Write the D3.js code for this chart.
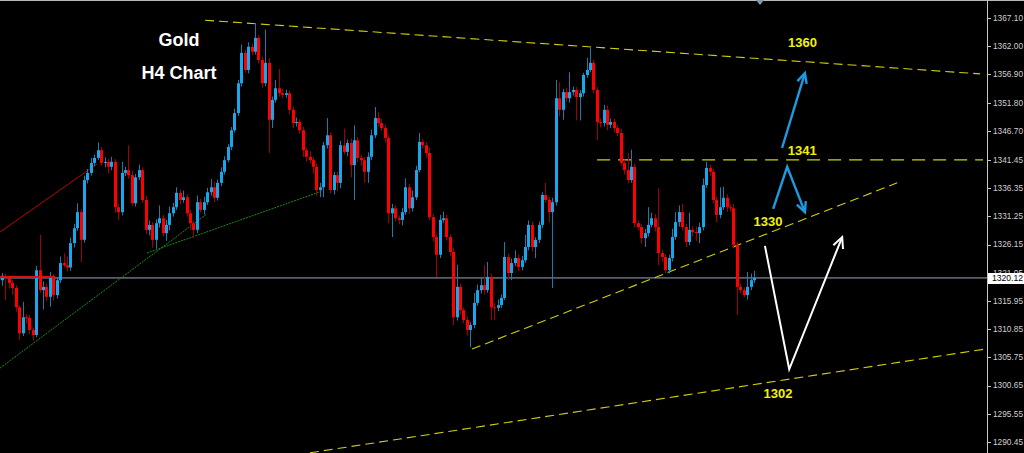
<!DOCTYPE html>
<html><head><meta charset="utf-8">
<script src="https://cdn.jsdelivr.net/npm/d3@7"></script>
<style>html,body{margin:0;padding:0;background:#000;overflow:hidden}</style>
</head><body>
<svg id="chart" width="1024" height="453"></svg>
<script>
// ---------------- DATA ----------------
const firstOpen = 1319.7;
const closes = [
 1320.5,1320.1,1319.2,1318.3,1314.8,1310.1,1313.0,1312.9,1310.7,1309.8,
 1321.5,1317.9,1318.5,1316.7,1320.3,1317.0,1319.7,1322.8,1322.4,1322.0,
 1326.4,1329.1,1332.0,1327.0,1337.8,1339.1,1340.9,1341.8,1343.2,1340.9,
 1341.1,1340.2,1341.1,1332.9,1332.0,1339.1,1339.6,
 1338.7,1333.6,1338.3,1339.6,1334.2,1328.8,1329.7,1327.0,1330.0,1330.9,
 1328.2,1329.7,1331.8,1332.9,1335.5,1334.2,1334.7,1331.8,1330.0,1328.8,
 1333.8,1332.4,1333.8,1335.6,1336.5,1334.6,1337.3,1339.3,1341.4,1343.8,
 1346.8,1349.9,1355.3,1360.8,1357.7,1361.9,
 1361.0,1363.5,1359.5,1355.3,1359.0,1348.7,1352.3,1354.4,1353.5,1353.2,
 1353.5,1350.5,1348.1,1348.3,1346.8,1343.2,1342.0,1341.4,1340.2,1336.0,
 1336.5,1344.1,1345.9,1336.0,1338.7,1337.3,1344.1,1342.9,1344.5,1340.5,
 1345.0,1341.8,1341.4,1339.3,1342.0,1345.9,1349.0,
 1348.1,1347.2,1345.4,1331.8,1332.7,1330.9,1330.6,1332.0,1336.5,1332.7,
 1334.7,1339.6,1344.7,1344.1,1342.7,1331.1,1327.5,1324.3,1330.6,1330.9,
 1327.5,1324.8,1313.0,1318.5,1314.3,1312.5,1310.7,1311.6,1315.6,1317.9,
 1318.8,1317.9,1320.3,1314.8,1314.7,1315.2,1316.5,1323.9,
 1321.0,1322.8,1323.7,1322.1,1323.3,1325.7,1329.7,1325.7,1327.0,1329.7,
 1335.1,1334.2,1332.0,1333.8,1352.6,1350.5,1353.7,1352.6,1353.7,1354.1,
 1352.8,1353.5,1356.8,1357.7,1359.0,1354.1,1348.3,1348.1,1350.5,1347.8,
 1348.3,1347.2,1346.3,1340.9,1339.6,
 1337.8,1340.2,1330.0,1329.3,1327.3,1328.2,1329.7,1330.9,1329.3,1324.6,
 1323.9,1321.5,1323.7,1327.5,1330.2,1332.0,1329.3,1326.6,1328.8,1328.4,
 1328.2,1329.3,1336.9,1340.0,1339.3,1334.2,1331.5,1332.9,1334.6,1332.9,
 1332.7,1326.1,1318.5,1317.9,1317.0,1318.5,1319.7,1320.1
];
const wickUp = [
 0.5,0.4,0.3,0.6,0.5,0.4,2.8,0.6,0.5,0.4,
 0.8,6.4,1.0,0.6,0.9,0.5,0.6,1.2,1.8,1.6,
 1.0,0.8,1.6,0.5,0.8,0.7,0.9,0.6,1.4,0.6,
 0.8,0.5,0.9,0.5,0.6,2.0,0.6,
 4.5,0.8,0.6,1.0,0.5,0.8,0.8,0.5,0.7,2.3,
 0.6,0.9,1.2,0.8,1.0,0.6,1.2,0.5,0.6,0.5,
 1.2,0.6,1.0,0.8,1.5,1.0,0.6,0.8,0.7,0.5,
 0.6,0.8,0.6,1.5,0.6,0.8,
 0.6,2.7,0.5,0.6,6.0,0.8,0.6,1.5,3.5,0.8,
 0.6,0.5,0.6,0.8,0.5,0.6,0.5,1.0,0.5,0.6,
 0.8,0.6,3.1,0.5,0.6,0.6,0.8,3.0,0.6,0.8,
 2.7,0.6,0.5,0.6,0.8,1.0,2.0,
 1.1,0.8,0.6,0.5,0.8,0.6,0.5,0.8,1.6,0.6,
 1.2,0.8,1.6,0.5,0.6,1.0,0.6,0.5,0.9,1.2,
 0.6,0.5,0.8,4.0,0.6,0.5,0.6,0.5,1.8,1.0,
 1.5,3.6,2.7,0.6,0.8,1.0,0.6,2.7,
 0.6,0.8,1.4,0.6,0.8,2.2,0.8,0.6,0.5,0.6,
 0.5,2.2,0.6,0.8,3.3,2.9,0.6,0.8,3.6,0.6,
 0.5,0.6,0.4,2.2,2.9,0.6,0.5,0.6,0.9,0.8,
 0.6,0.6,0.5,0.8,0.6,
 3.1,3.1,0.6,0.5,0.6,0.8,3.2,1.0,0.8,7.0,
 0.6,0.5,0.6,1.5,1.8,1.2,1.5,0.6,3.1,0.6,
 1.0,0.8,1.2,1.1,0.6,0.5,0.6,3.6,2.0,0.6,
 0.5,0.8,0.5,0.6,0.5,2.7,1.2,1.3
];
const wickDn = [
 1.0,4.0,1.0,1.2,0.8,1.2,0.5,1.0,0.8,1.0,
 0.4,0.5,3.5,0.8,1.8,1.0,0.6,0.5,0.4,0.7,
 0.6,0.8,0.5,4.0,0.5,0.6,0.5,0.6,0.4,0.5,
 0.8,1.2,0.6,1.0,1.4,0.6,0.6,
 0.6,0.5,0.6,0.5,0.5,0.8,1.0,1.4,1.6,0.8,
 0.6,1.4,1.0,0.6,0.5,0.8,0.5,0.6,1.2,1.5,
 0.6,0.5,0.8,0.5,0.6,0.8,0.5,0.6,0.5,0.4,
 0.6,0.4,0.5,0.6,0.5,0.6,
 0.6,0.5,0.6,0.8,0.5,6.0,1.5,0.5,0.6,0.6,
 0.5,0.8,0.9,0.6,0.6,1.2,0.8,0.6,1.2,1.0,
 1.3,1.8,0.6,0.6,0.8,1.5,1.0,0.5,0.8,2.2,
 6.3,0.8,1.0,2.0,2.0,0.6,0.5,
 0.6,0.5,0.8,1.8,4.3,0.6,0.8,1.0,0.5,1.0,
 0.6,0.5,0.4,0.6,0.8,0.6,0.8,4.0,0.6,0.5,
 0.6,0.8,1.4,0.6,0.8,0.6,1.0,3.1,0.6,0.5,
 0.6,0.8,0.5,2.3,2.2,0.6,0.5,0.4,
 1.3,1.3,0.5,0.8,0.6,0.5,0.6,0.8,2.0,0.6,
 0.6,0.5,1.8,13.7,0.6,1.2,1.8,0.6,0.8,0.6,
 4.2,4.2,0.6,0.5,0.4,0.6,3.3,0.8,0.6,1.0,
 0.6,0.8,0.6,0.5,0.8,
 0.6,0.5,0.8,0.6,1.0,1.6,0.6,0.5,0.8,2.2,
 0.8,0.5,0.6,0.6,0.5,0.8,0.6,0.9,0.6,0.8,
 1.4,1.8,0.6,0.5,0.8,0.6,1.3,0.6,0.5,0.8,
 0.6,0.5,5.1,0.6,0.4,0.8,0.6,0.5
];
const tickLabels = ["1367.10","1362.00","1356.90","1351.80","1346.70","1341.45","1336.35","1331.25",
  "1326.15","1321.05","1315.95","1310.85","1305.75","1300.65","1295.55","1290.45"];
const currentPrice = 1320.12;
const resistanceLevel = 1341.45;
const resistanceStart = 174.1;            // candle index where the dashed level starts
const upperTrend   = [[59.4,1366.7],[286.1,1357.0]];
const supportTrend = [[137.5,1307.25],[261.9,1337.3]];
const lowerTrend   = [[90.1,1288.5],[288.2,1307.3]];
const greenSteep   = [[-0.6,1303.8],[60.0,1331.7]];
const greenFlat    = [[42.4,1324.6],[93.6,1335.8]];
const redTrend     = [[-0.6,1328.4],[27.8,1340.7]];
const redLevel     = [[-0.6,1320.3],[15.5,1320.3]];
const blueArrowUp  = [[228.2,1343.6],[234.9,1357.15]];
const blueChevron  = [[225.6,1332.6],[229.7,1340.2],[234.9,1332.0]];
const whiteV       = [[223.2,1325.9],[230.3,1303.6],[245.8,1327.5]];
const targetLabels = [
  {text:"1360", i:234.2, p:1361.85},
  {text:"1341", i:234.1, p:1342.33},
  {text:"1330", i:224.1, p:1329.49},
  {text:"1302", i:227.0, p:1298.39}
];
const titleLines = ["Gold","H4 Chart"];

// ---------------- DRAWING ----------------
const W = 1024, H = 453, axisX = 987;
const svg = d3.select("#chart");
svg.append("rect").attr("width",W).attr("height",H).attr("fill","#000");

const x = d3.scaleLinear().domain([0, closes.length-1]).range([2, 754]);
const y = d3.scaleLinear().domain([1290.45, 1367.10]).range([442, 18]);

svg.append("defs").append("clipPath").attr("id","plot")
  .append("rect").attr("x",0).attr("y",0).attr("width",axisX).attr("height",H);
const plot = svg.append("g").attr("clip-path","url(#plot)");

const line = d3.line().x(d=>x(d[0])).y(d=>y(d[1]));

// current price line
plot.append("line").attr("x1",0).attr("x2",axisX)
  .attr("y1",y(currentPrice)).attr("y2",y(currentPrice))
  .attr("stroke","#5c5f6a").attr("stroke-width",1.6);

// yellow dashed trend lines
[upperTrend, supportTrend, lowerTrend].forEach(t=>{
  plot.append("path").attr("d",line(t)).attr("fill","none")
    .attr("stroke","#cfcf10").attr("stroke-width",1.1).attr("stroke-dasharray","9,5");
});
plot.append("line").attr("x1",x(resistanceStart)).attr("x2",axisX-4)
  .attr("y1",y(resistanceLevel)).attr("y2",y(resistanceLevel))
  .attr("stroke","#cfcf10").attr("stroke-width",1.3).attr("stroke-dasharray","13,8");

// green dotted lines
[greenSteep, greenFlat].forEach(t=>{
  plot.append("path").attr("d",line(t)).attr("fill","none")
    .attr("stroke","#1c8c1c").attr("stroke-width",1).attr("stroke-dasharray","2,1");
});
// red line
plot.append("path").attr("d",line(redTrend)).attr("fill","none")
  .attr("stroke","#c00000").attr("stroke-width",1);

// candles
const opens = [firstOpen].concat(closes.slice(0,-1));
const candles = closes.map((c,i)=>{
  const o = opens[i];
  return {i, o, c, h: Math.max(o,c)+wickUp[i], l: Math.min(o,c)-wickDn[i], bull: c>=o};
});
const cg = plot.append("g");
cg.selectAll("line.w").data(candles).join("line").attr("class","w")
  .attr("x1",d=>Math.round(x(d.i))+0.5).attr("x2",d=>Math.round(x(d.i))+0.5)
  .attr("y1",d=>y(d.h)).attr("y2",d=>y(d.l))
  .attr("stroke",d=>d.bull?"#1f7aa8":"#a00000").attr("stroke-width",1);
cg.selectAll("rect.b").data(candles).join("rect").attr("class","b")
  .attr("x",d=>Math.round(x(d.i))-1).attr("width",3)
  .attr("y",d=>y(Math.max(d.o,d.c)))
  .attr("height",d=>Math.max(1, Math.abs(y(d.o)-y(d.c))))
  .attr("fill",d=>d.bull?"#18a6ec":"#ff0000");

// red level on top
plot.append("path").attr("d",line(redLevel)).attr("fill","none")
  .attr("stroke","#e01010").attr("stroke-width",2);

// arrows
function arrow(pts, color, width, head){
  const px = pts.map(p=>[x(p[0]), y(p[1])]);
  plot.append("path").attr("d",d3.line()(px)).attr("fill","none")
    .attr("stroke",color).attr("stroke-width",width).attr("stroke-linejoin","miter");
  const a = px[px.length-1], b = px[px.length-2];
  const ang = Math.atan2(a[1]-b[1], a[0]-b[0]);
  const spread = 0.45;
  const p1 = [a[0]-head*Math.cos(ang-spread), a[1]-head*Math.sin(ang-spread)];
  const p2 = [a[0]-head*Math.cos(ang+spread), a[1]-head*Math.sin(ang+spread)];
  plot.append("path").attr("d",d3.line()([p1,a,p2])).attr("fill","none")
    .attr("stroke",color).attr("stroke-width",width).attr("stroke-linejoin","miter");
}
arrow(blueArrowUp, "#1c9be0", 2.4, 11);
arrow(blueChevron, "#1c9be0", 2.4, 11);
arrow(whiteV, "#ffffff", 2, 12);

// target labels
svg.selectAll("text.tl").data(targetLabels).join("text").attr("class","tl")
  .attr("x",d=>x(d.i)).attr("y",d=>y(d.p)).attr("text-anchor","middle")
  .attr("font-family","'Liberation Sans',Arial,sans-serif").attr("font-weight","bold")
  .attr("font-size",13).attr("fill","#f2f200").text(d=>d.text);

// title
svg.selectAll("text.tt").data(titleLines).join("text").attr("class","tt")
  .attr("x",179).attr("y",(d,k)=>46+k*33).attr("text-anchor","middle")
  .attr("font-family","'Liberation Sans',Arial,sans-serif").attr("font-weight","bold")
  .attr("font-size",18).attr("fill","#ffffff").text(d=>d);

// frame: top border and axis
svg.append("line").attr("x1",0).attr("x2",W).attr("y1",0.5).attr("y2",0.5)
  .attr("stroke","#b8b8b8").attr("stroke-width",1);
svg.append("line").attr("x1",axisX+0.5).attr("x2",axisX+0.5).attr("y1",0).attr("y2",H)
  .attr("stroke","#c8c8c8").attr("stroke-width",1);
svg.append("path").attr("d","M756,0L764,0L760,5Z").attr("fill","#8796a6");

const ax = svg.append("g");
ax.selectAll("line.tk").data(tickLabels).join("line").attr("class","tk")
  .attr("x1",axisX+1).attr("x2",axisX+4)
  .attr("y1",d=>Math.round(y(+d))+0.5).attr("y2",d=>Math.round(y(+d))+0.5)
  .attr("stroke","#c8c8c8");
ax.selectAll("text.tk").data(tickLabels).join("text").attr("class","tk")
  .attr("x",axisX+6).attr("y",d=>y(+d)).attr("dy","0.35em")
  .attr("font-family","'Liberation Sans',Arial,sans-serif").attr("font-size",8.3)
  .attr("fill","#d0d0d0").text(d=>d);

// current price box
const cy = y(currentPrice);
svg.append("rect").attr("x",axisX+1).attr("y",Math.round(cy)-5).attr("width",W-axisX-1).attr("height",11)
  .attr("fill","#ffffff");
svg.append("text").attr("x",axisX+5).attr("y",cy).attr("dy","0.37em")
  .attr("font-family","'Liberation Sans',Arial,sans-serif").attr("font-size",8.6)
  .attr("fill","#000").text(currentPrice.toFixed(2));
</script>
</body></html>
